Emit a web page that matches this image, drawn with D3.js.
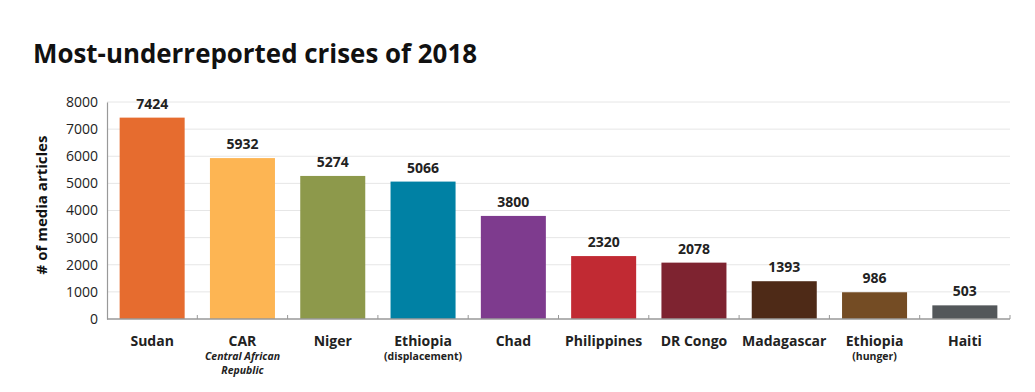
<!DOCTYPE html>
<html><head><meta charset="utf-8">
<script src="https://cdn.jsdelivr.net/npm/d3@7"></script>
<style>
body{margin:0;background:#fff;}
text{font-family:"Open Sans","DejaVu Sans",sans-serif;}
</style></head>
<body><svg id="c" width="1035" height="392"></svg>
<script>
const categories = ["Sudan","CAR","Niger","Ethiopia","Chad","Philippines","DR Congo","Madagascar","Ethiopia","Haiti"];
const subLabels = [[],["Central African","Republic"],[],["(displacement)"],[],[],[],[],["(hunger)"],[]];
const subItalic = [false,true,false,false,false,false,false,false,false,false];
const values = [7424,5932,5274,5066,3800,2320,2078,1393,986,503];
const colors = ["#E66C2F","#FDB553","#8D994B","#0081A4","#7E3B8E","#C12A33","#7E2330","#4E2A17","#744C24","#53575A"];
const yTicks = [0,1000,2000,3000,4000,5000,6000,7000,8000];

(function(){
const svg = d3.select("#c");
const mLeft = 107, mRight = 1010, mTop = 102, mBottom = 319;
const x = d3.scaleBand().domain(d3.range(categories.length)).range([mLeft, mRight]).paddingInner(0.28).paddingOuter(0.14);
const y = d3.scaleLinear().domain([0, 8000]).range([mBottom, mTop]);

// title
svg.append("text").attr("x", 33).attr("y", 63).attr("font-size", 27).attr("font-weight", 700)
  .attr("fill", "#111").attr("textLength", 444).attr("lengthAdjust", "spacingAndGlyphs")
  .text("Most-underreported crises of 2018");

// grid
svg.append("g").selectAll("line").data(yTicks.filter(d => d > 0)).join("line")
  .attr("x1", mLeft).attr("x2", mRight).attr("y1", d => y(d)).attr("y2", d => y(d))
  .attr("stroke", "#e6e6e6").attr("stroke-width", 1);

// y axis
const ya = svg.append("g").attr("transform", `translate(${mLeft},0)`)
  .call(d3.axisLeft(y).tickValues(yTicks).tickSize(0).tickPadding(9).tickFormat(d3.format("d")));
ya.select(".domain").attr("stroke", "#999").attr("stroke-width", 1.2);
ya.selectAll("text").attr("font-size", 14).attr("fill", "#222").attr("font-family", "'Open Sans',sans-serif");

// bars
svg.append("g").selectAll("rect").data(values).join("rect")
  .attr("x", (d, i) => x(i)).attr("width", x.bandwidth())
  .attr("y", d => y(d)).attr("height", d => y(0) - y(d))
  .attr("fill", (d, i) => colors[i]);

// x axis
const xa = svg.append("g").attr("transform", `translate(0,${mBottom})`);
xa.append("line").attr("x1", mLeft).attr("x2", mRight).attr("y1", 0).attr("y2", 0).attr("stroke", "#999").attr("stroke-width", 1.5);
const step = x.step();
xa.selectAll("line.tk").data(d3.range(1, categories.length + 1)).join("line").attr("class", "tk")
  .attr("x1", d => mLeft + d * step).attr("x2", d => mLeft + d * step)
  .attr("y1", 0).attr("y2", -4).attr("stroke", "#999").attr("stroke-width", 1);

// value labels
svg.append("g").selectAll("text").data(values).join("text")
  .attr("x", (d, i) => x(i) + x.bandwidth() / 2).attr("y", d => y(d) - 9)
  .attr("text-anchor", "middle").attr("font-size", 14).attr("font-weight", 700).attr("fill", "#222")
  .text(d => d);

// category labels
const cl = svg.append("g");
categories.forEach((c, i) => {
  const cx = x(i) + x.bandwidth() / 2;
  cl.append("text").attr("x", cx).attr("y", 346).attr("text-anchor", "middle")
    .attr("font-size", 14).attr("font-weight", 700).attr("fill", "#222").text(c);
  subLabels[i].forEach((s, j) => {
    cl.append("text").attr("x", cx).attr("y", 360 + j * 14).attr("text-anchor", "middle")
      .attr("font-size", 10.5).attr("font-weight", 700).attr("fill", "#222")
      .attr("font-style", subItalic[i] ? "italic" : "normal").text(s);
  });
});

// y label
svg.append("text").attr("transform", "translate(47,205) rotate(-90)").attr("text-anchor", "middle")
  .attr("font-size", 15).attr("font-weight", 700).attr("fill", "#111").text("# of media articles");
})();
</script></body></html>
